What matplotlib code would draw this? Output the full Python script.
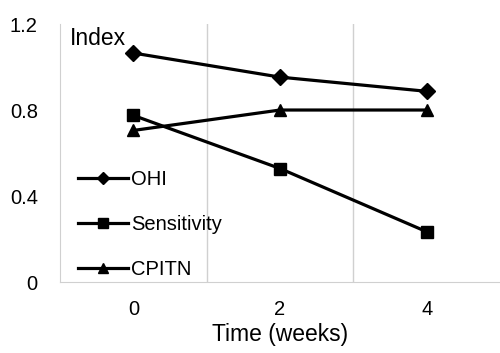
import matplotlib.pyplot as plt

plt.rcParams['font.family'] = ['Liberation Sans', 'DejaVu Sans']

weeks = [0, 2, 4]
ohi = [1.065, 0.953, 0.887]
sensitivity = [0.775, 0.528, 0.234]
cpitn = [0.705, 0.80, 0.80]

fig = plt.figure(figsize=(5.0, 3.53), dpi=100)
ax = fig.add_axes([0.12, 0.201, 0.88, 0.731])

ax.plot(weeks, ohi, color='black', lw=2.3, marker='D', ms=8, label='OHI')
ax.plot(weeks, sensitivity, color='black', lw=2.3, marker='s', ms=9, label='Sensitivity')
ax.plot(weeks, cpitn, color='black', lw=2.3, marker='^', ms=9, label='CPITN')

ax.set_xlim(-1, 5)
ax.set_ylim(0, 1.2)
ax.set_xticks(weeks)
ax.set_xticklabels([str(w) for w in weeks])
ax.set_yticks([0, 0.4, 0.8, 1.2])
ax.set_yticklabels(['0', '0.4', '0.8', '1.2'])
ax.tick_params(length=0, labelsize=14.5, colors='black')
ax.tick_params(axis='y', pad=16)
ax.tick_params(axis='x', pad=13)

for x in [1, 3]:
    ax.axvline(x, color='#d0d0d0', lw=1, zorder=0)

for side in ['top', 'right']:
    ax.spines[side].set_visible(False)
ax.spines['left'].set_color('#d0d0d0')
ax.spines['bottom'].set_color('#d0d0d0')

ax.text(0.022, 0.99, 'Index', transform=ax.transAxes, fontsize=16.5, va='top', ha='left')
ax.set_xlabel('Time (weeks)', fontsize=16.5, labelpad=3)

ax.legend(loc='lower left', bbox_to_anchor=(0.04, 0.012), frameon=False, fontsize=14.5,
          borderpad=0, borderaxespad=0, handlelength=2.5, handletextpad=0.15,
          labelspacing=1.28, markerscale=0.75)

fig.savefig('out.png', dpi=100)
